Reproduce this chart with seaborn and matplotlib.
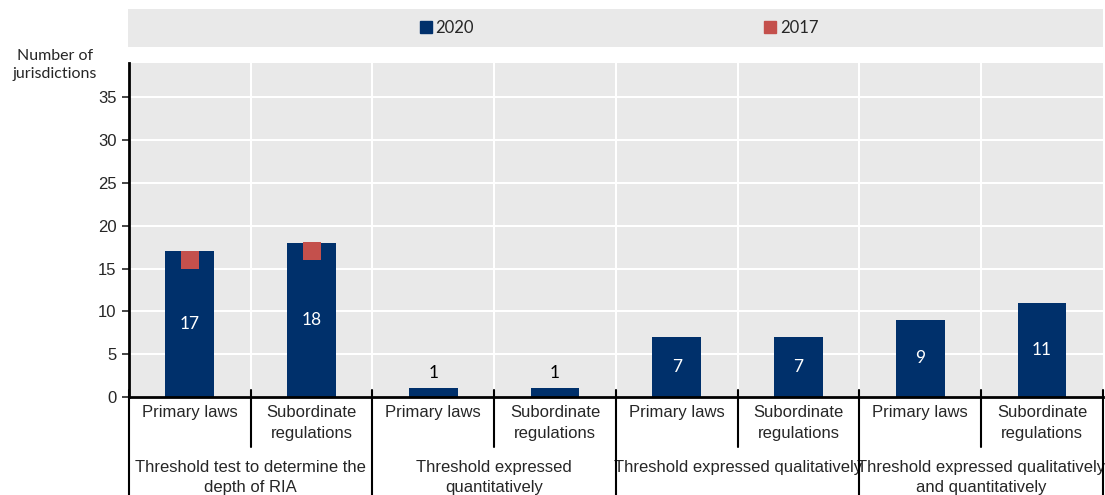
import numpy as np
import pandas as pd
import seaborn as sns
import matplotlib.pyplot as plt
from matplotlib.lines import Line2D
from matplotlib.patches import Rectangle

# data
groups = ["Threshold test to determine the\ndepth of RIA",
          "Threshold expressed\nquantitatively",
          "Threshold expressed qualitatively",
          "Threshold expressed qualitatively\nand quantitatively"]
instruments = ["Primary laws", "Subordinate\nregulations"]
values_2020 = [17, 18, 1, 1, 7, 7, 9, 11]
values_2017 = [16, 17, np.nan, np.nan, np.nan, np.nan, np.nan, np.nan]

navy = "#00306b"
red = "#c4504c"
panel = "#e9e9e9"

slots = [f"{g}|{i}" for g in groups for i in instruments]
df = pd.DataFrame({"slot": slots, "y2020": values_2020, "y2017": values_2017})

sns.set_theme(style="white")
plt.rcParams["font.family"] = ["Liberation Sans", "DejaVu Sans"]

fig, ax = plt.subplots(figsize=(11.05, 4.95), dpi=100)
plt.subplots_adjust(left=0.1167, right=0.998, top=0.8727, bottom=0.198)

ax.set_facecolor(panel)
sns.barplot(data=df, x="slot", y="y2020", order=slots, color=navy, width=0.4,
            saturation=1, linewidth=0, ax=ax, zorder=3)
sns.stripplot(data=df, x="slot", y="y2017", order=slots, color=red, marker="s",
              size=13.5, jitter=False, linewidth=0, ax=ax, zorder=4)

# value labels
for i, v in enumerate(values_2020):
    if v >= 5:
        ax.text(i, v / 2, str(v), ha="center", va="center", color="white",
                fontsize=12.5, family="Lato", zorder=5)
    else:
        ax.text(i, v + 1.8, str(v), ha="center", va="center", color="black",
                fontsize=12.5, family="Lato", zorder=5)

ax.set_ylim(0, 39)
ax.set_xlim(-0.5, 7.5)
ax.set_yticks(range(0, 40, 5))
ax.set_xticks(range(len(slots)))
ax.set_xticklabels(instruments * len(groups), fontsize=12, linespacing=1.5)
ax.tick_params(axis="x", length=0, pad=6)
ax.tick_params(axis="y", length=5, width=1.2, labelsize=12, pad=4, left=True)
ax.set_xlabel("")
ax.set_ylabel("")

ax.grid(axis="y", color="white", linewidth=1.5, zorder=0)
for b in np.arange(0.5, 7.5, 1):
    ax.axvline(b, color="white", linewidth=1.5, zorder=1)

for s in ["top", "right"]:
    ax.spines[s].set_visible(False)
ax.spines["left"].set_color("black")
ax.spines["left"].set_linewidth(2)
ax.spines["bottom"].set_color("black")
ax.spines["bottom"].set_linewidth(2)
ax.spines["left"].set_zorder(6)
ax.spines["bottom"].set_zorder(6)

# separators under the axis
trans = ax.get_xaxis_transform()
for b in np.arange(-0.5, 8, 1):
    major = int(b + 0.5) % 2 == 0
    y_end = -0.32 if major else -0.15
    ax.plot([b, b], [0.02, y_end], color="black", linewidth=1.5,
            transform=trans, clip_on=False, zorder=6)

# group labels
for k, g in enumerate(groups):
    ax.text(2 * k + 0.5, -0.188, g, transform=trans, ha="center", va="top",
            fontsize=12, linespacing=1.45)

# y label
fig.text(55 / 1105, 1 - 65 / 495, "Number of\njurisdictions", ha="center",
         va="center", fontsize=11.5, family="Lato", linespacing=1.3)

# legend band
fig.patches.append(Rectangle((128 / 1105, 1 - 47 / 495), 975 / 1105, 38 / 495,
                             transform=fig.transFigure, facecolor=panel,
                             edgecolor="none", zorder=0))
handles = [Line2D([], [], marker="s", linestyle="none", color=navy, markersize=8),
           Line2D([], [], marker="s", linestyle="none", color=red, markersize=8)]
fig.legend(handles, ["2020", "2017"], loc="center", ncol=2,
           bbox_to_anchor=(619 / 1105, 1 - 28 / 495), frameon=False,
           handlelength=0.7, handletextpad=0.25, columnspacing=17.4,
           prop={"family": "Lato", "size": 12})

fig.savefig("out.png", dpi=100)
